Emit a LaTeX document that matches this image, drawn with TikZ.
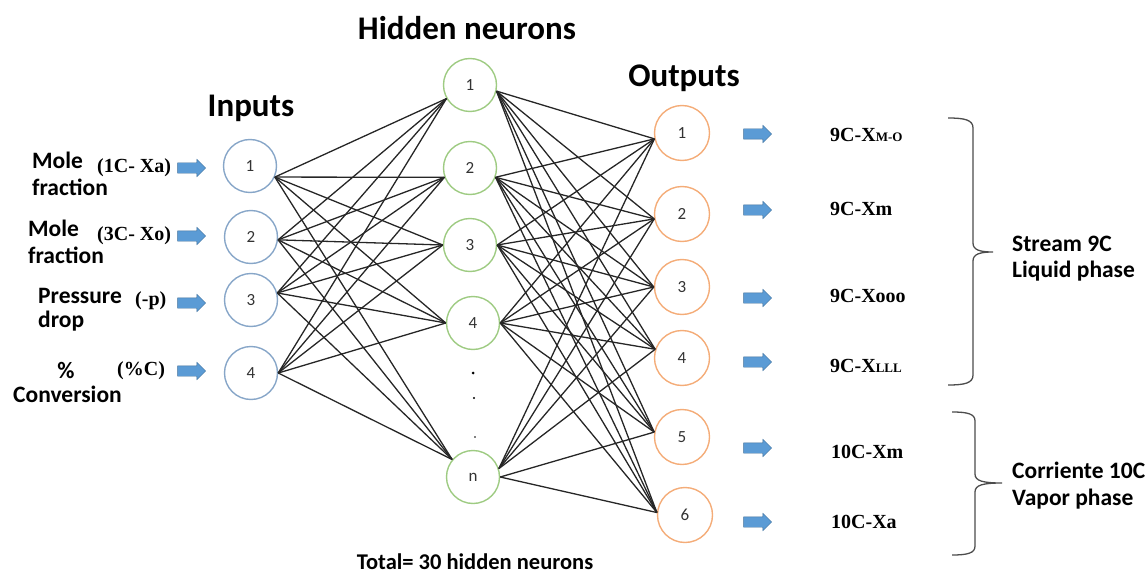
\documentclass[tikz,border=0pt]{standalone}
\usepackage{fontspec}
\setmainfont{Carlito}
\newfontfamily\serifb{Liberation Serif}
\usetikzlibrary{shapes.arrows}
\definecolor{inblue}{HTML}{87A6C8}
\definecolor{hidgreen}{HTML}{9ECB82}
\definecolor{outorange}{HTML}{F4AC78}
\definecolor{arrfill}{HTML}{5B9BD5}
\definecolor{arrdraw}{HTML}{41719C}
\definecolor{numgrey}{HTML}{333333}
\tikzset{
  neuron/.style={circle, line width=1.4pt, minimum size=53pt, inner sep=0pt,
    font=\fontsize{17}{17}\selectfont, text=numgrey},
  inneuron/.style={neuron, draw=inblue},
  hidneuron/.style={neuron, draw=hidgreen},
  outneuron/.style={neuron, draw=outorange, minimum size=55pt},
  conn/.style={draw=black!85, line width=1.3pt},
  blockarrow/.style={single arrow, fill=arrfill, draw=arrdraw, line width=0.4pt,
    minimum height=28pt, minimum width=17pt, inner sep=0pt, inner ysep=5pt,
    single arrow head extend=3.5pt},
  heading/.style={font=\fontsize{33}{33}\selectfont\bfseries, anchor=base, inner sep=0pt},
  lab/.style={font=\fontsize{23.5}{23.5}\selectfont\bfseries, anchor=base west, inner sep=0pt},
  ser/.style={font=\serifb\fontsize{20}{20}\selectfont\bfseries, anchor=base west, inner sep=0pt},
  outlab/.style={font=\serifb\fontsize{20}{20}\selectfont\bfseries, anchor=base west, inner sep=0pt},
  bracelab/.style={font=\fontsize{23.5}{23.5}\selectfont\bfseries, anchor=base west, inner sep=0pt},
  bracepath/.style={draw=black!70, line width=1.3pt},
}
\newcommand{\smallsub}[1]{{\fontsize{13}{13}\selectfont #1}}
\begin{document}
\begin{tikzpicture}[x=1pt, y=-1pt]
\useasboundingbox (0,0) rectangle (1146,575);

% headings
\node[heading] (hdin)  at (251,117) {Inputs};
\node[heading] (hdhid) at (467,40)  {Hidden neurons};
\node[heading] (hdout) at (684,87)  {Outputs};
\node[heading, font=\fontsize{22.5}{22.5}\selectfont\bfseries] (total) at (475,569) {Total= 30 hidden neurons};

% input layer
\node[inneuron] (i1) at (250,166) {1};
\node[inneuron] (i2) at (251,237) {2};
\node[inneuron] (i3) at (251,300) {3};
\node[inneuron] (i4) at (251,373) {4};

% hidden layer
\node[hidneuron] (h1) at (470,85)  {1};
\node[hidneuron] (h2) at (470,168) {2};
\node[hidneuron] (h3) at (470,245) {3};
\node[hidneuron] (h4) at (473,323) {4};
\node[hidneuron] (hn) at (473,477) {n};
\fill (473,373) circle (1.5pt);
\fill (474,398) circle (1.2pt);
\fill (475,437) circle (0.9pt);

% output layer
\node[outneuron] (o1) at (682,133) {1};
\node[outneuron] (o2) at (682,214) {2};
\node[outneuron] (o3) at (682,287) {3};
\node[outneuron] (o4) at (682,358) {4};
\node[outneuron] (o5) at (682,437) {5};
\node[outneuron] (o6) at (685,515) {6};

% input -> hidden connections
\foreach \i/\a in {1/-24,2/-6,3/15,4/0}
  \foreach \h/\b in {1/210,2/200,3/180,4/180,n/140}
    \draw[conn] (i\i.\a) -- (h\h.\b);

% hidden -> output connections
\foreach \h/\a in {1/-13,2/-20,3/0,4/0}
  \foreach \o/\b in {1/192,2/190,3/180,4/162,5/170,6/175}
    \draw[conn] (h\h.\a) -- (o\o.\b);
\foreach \o/\b in {1/192,2/190,3/180,4/162}
  \draw[conn] (hn.18) -- (o\o.\b);
\foreach \o/\b in {5/170,6/175}
  \draw[conn] (hn.0) -- (o\o.\b);

% input labels
\node[lab] (m1a) at (32,168) {Mole};
\node[lab] (m1b) at (32,195) {fraction};
\node[ser] (s1) at (97,172) {(1C- Xa)};
\node[lab] (m2a) at (28,236) {Mole};
\node[lab] (m2b) at (28,263) {fraction};
\node[ser] (s2) at (97,240) {(3C- Xo)};
\node[lab] (m3a) at (38,303) {Pressure};
\node[lab] (m3b) at (38,327) {drop};
\node[ser] (s3) at (135,305) {(-p)};
\node[lab, anchor=base] (m4a) at (66,378) {\%};
\node[lab] (m4b) at (13,402) {Conversion};
\node[ser] (s4) at (117,375) {(\%C)};

% input arrows
\node[blockarrow] (ia1) at (189,168) {};
\node[blockarrow] (ia2) at (189,236) {};
\node[blockarrow] (ia3) at (189,303) {};
\node[blockarrow] (ia4) at (189,371) {};

% output arrows
\node[blockarrow] (oa1) at (755,134) {};
\node[blockarrow] (oa2) at (755,210) {};
\node[blockarrow] (oa3) at (755,298) {};
\node[blockarrow] (oa4) at (755,362) {};
\node[blockarrow] (oa5) at (755,448) {};
\node[blockarrow] (oa6) at (755,522) {};

% output labels
\node[outlab] (ol1) at (830,142) {9C-X\smallsub{M-O}};
\node[outlab] (ol2) at (830,215) {9C-Xm};
\node[outlab] (ol3) at (830,302) {9C-Xooo};
\node[outlab] (ol4) at (830,372) {9C-X\smallsub{LLL}};
\node[outlab] (ol5) at (831,458) {10C-Xm};
\node[outlab] (ol6) at (831,528) {10C-Xa};

% braces
\draw[bracepath] (948,118) .. controls (965,118) and (973,120) .. (973,128)
  -- (973,243) .. controls (973,250) and (980,252) .. (993,252)
  .. controls (980,252) and (973,254) .. (973,261)
  -- (973,375) .. controls (973,383) and (965,385) .. (948,385);
\draw[bracepath] (952,412) .. controls (968,412) and (975,414) .. (975,421)
  -- (975,474) .. controls (975,481) and (983,483) .. (1002,483)
  .. controls (983,483) and (975,485) .. (975,492)
  -- (975,546) .. controls (975,553) and (968,555) .. (952,555);

% brace labels
\node[bracelab] (b1a) at (1012,251) {Stream 9C};
\node[bracelab] (b1b) at (1012,277) {Liquid phase};
\node[bracelab] (b2a) at (1012,478) {Corriente 10C};
\node[bracelab] (b2b) at (1012,505) {Vapor phase};
\end{tikzpicture}
\end{document}
